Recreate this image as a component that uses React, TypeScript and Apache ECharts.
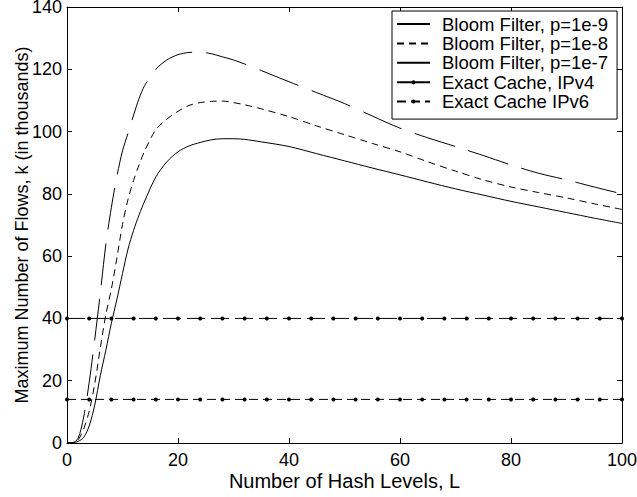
import React, { useEffect, useRef } from "react";
import * as echarts from "echarts";

const FONT = "'Liberation Sans', Arial, Helvetica, sans-serif";

// Number of hash levels L (x values of the Bloom filter curves)
const hashLevels = [0, 1, 2, 3, 4, 5, 6, 7, 8, 9, 10, 11, 12, 13, 14, 16, 18, 20, 22, 24, 26, 28, 30, 32, 35, 40, 45, 50, 55, 60, 65, 70, 75, 80, 85, 90, 95, 100];

// Maximum number of flows (thousands)
const bloomP9 = [0, 0.05, 0.5, 1.8, 5.5, 12.2, 21.6, 29.8, 38.5, 46.2, 54.4, 62.3, 68.3, 73.3, 77.7, 85.4, 90.3, 93.5, 95.4, 96.5, 97.35, 97.7, 97.7, 97.5, 96.7, 95.2, 92.9, 90.6, 88.3, 86.1, 83.8, 81.6, 79.6, 77.6, 75.8, 74, 72.2, 70.5];
const bloomP8 = [0, 0.1, 1, 4.5, 10.2, 19, 30.5, 41.2, 49.5, 59.5, 70.2, 78.3, 84.3, 89.4, 93.8, 100.6, 104, 106.5, 108.4, 109.3, 109.7, 109.8, 109.3, 108.6, 107.3, 104.8, 101.8, 99, 96.2, 93.5, 90.3, 87.3, 84.5, 82.2, 80.4, 78.7, 76.8, 75];
const bloomP7 = [0, 0.1, 1.5, 8.3, 19.5, 33.3, 48.1, 63.8, 75.7, 85.7, 93.8, 99.5, 105.3, 110.7, 114.8, 120, 123, 124.7, 125.4, 125.5, 125, 124, 123, 121.7, 119.6, 116, 112.5, 109, 105, 101.1, 98, 95.2, 92.3, 89.3, 86.6, 84.5, 82.2, 80];

// Exact cache lines (with markers)
const markerLevels = [0, 4, 8, 12, 16, 20, 24, 28, 32, 36, 40, 44, 48, 52, 56, 60, 64, 68, 72, 76, 80, 84, 88, 92, 96, 100];
const ipv4Flows = [40, 40, 40, 40, 40, 40, 40, 40, 40, 40, 40, 40, 40, 40, 40, 40, 40, 40, 40, 40, 40, 40, 40, 40, 40, 40];
const ipv6Flows = [14, 14, 14, 14, 14, 14, 14, 14, 14, 14, 14, 14, 14, 14, 14, 14, 14, 14, 14, 14, 14, 14, 14, 14, 14, 14];

const seriesNames = [
  "Bloom Filter, p=1e-9",
  "Bloom Filter, p=1e-8",
  "Bloom Filter, p=1e-7",
  "Exact Cache, IPv4",
  "Exact Cache IPv6",
];

const xTitle = "Number of Hash Levels, L";
const yTitle = "Maximum Number of Flows, k (in thousands)";

function App() {
  const ref = useRef<HTMLDivElement>(null);

  useEffect(() => {
    if (!ref.current) return;
    const chart = echarts.init(ref.current, null, { renderer: "svg" });

    const axisLine = { show: true, onZero: false, lineStyle: { color: "#000", width: 1 } };
    const axisTick = { show: true, inside: true, length: 5, lineStyle: { color: "#000", width: 1 } };
    const label = { fontSize: 18, color: "#000", fontFamily: FONT };

    const pair = (xs: number[], ys: number[]) => xs.map((x, i) => [x, ys[i]]);
    const noSymbol = { color: "rgba(0,0,0,0)", borderWidth: 0, opacity: 0 };

    chart.setOption({
      animation: false,
      backgroundColor: "#fff",
      grid: { left: 67, top: 7, width: 555, height: 436, containLabel: false, outerBoundsMode: "none" },
      legend: {
        orient: "vertical",
        left: 392,
        top: 11,
        padding: [3.5, 9, 8, 4],
        itemWidth: 33,
        itemHeight: 5,
        itemGap: 0.4,
        borderColor: "#000",
        borderWidth: 1,
        backgroundColor: "#fff",
        textStyle: { fontSize: 18.5, color: "#000", fontFamily: FONT, lineHeight: 18, padding: [0, 0, 0, 7] },
        data: [
          { name: seriesNames[0], itemStyle: noSymbol },
          { name: seriesNames[1], itemStyle: noSymbol },
          { name: seriesNames[2], itemStyle: noSymbol, lineStyle: { type: "solid" } },
          { name: seriesNames[3], lineStyle: { type: "solid" } },
          { name: seriesNames[4] },
        ],
      },
      xAxis: [
        {
          type: "value", min: 0, max: 100, interval: 20, position: "bottom",
          name: xTitle, nameLocation: "middle", nameGap: 28, nameMoveOverlap: false,
          nameTextStyle: { ...label, fontSize: 20 },
          axisLine, axisTick,
          axisLabel: { ...label, margin: 8 },
          splitLine: { show: false },
        },
        {
          type: "value", min: 0, max: 100, interval: 20, position: "top",
          axisLine, axisTick, axisLabel: { show: false }, splitLine: { show: false },
        },
      ],
      yAxis: [
        {
          type: "value", min: 0, max: 140, interval: 20, position: "left",
          name: yTitle, nameLocation: "middle", nameGap: 36, nameMoveOverlap: false,
          nameTextStyle: { ...label },
          axisLine, axisTick,
          axisLabel: { ...label, margin: 5, lineHeight: 14 },
          splitLine: { show: false },
        },
        {
          type: "value", min: 0, max: 140, interval: 20, position: "right",
          axisLine, axisTick, axisLabel: { show: false }, splitLine: { show: false },
        },
      ],
      series: [
        {
          name: seriesNames[0], type: "line", data: pair(hashLevels, bloomP9),
          symbol: "none", smooth: 0.3, clip: true,
          lineStyle: { color: "#000", width: 1, type: "solid" },
          itemStyle: { color: "#000" },
        },
        {
          name: seriesNames[1], type: "line", data: pair(hashLevels, bloomP8),
          symbol: "none", smooth: 0.3, clip: true,
          lineStyle: { color: "#000", width: 1, type: [7, 5] },
          itemStyle: { color: "#000" },
        },
        {
          name: seriesNames[2], type: "line", data: pair(hashLevels, bloomP7),
          symbol: "none", smooth: 0.3, clip: true,
          lineStyle: { color: "#000", width: 1, type: [42, 14] },
          itemStyle: { color: "#000" },
        },
        {
          name: seriesNames[3], type: "line", data: pair(markerLevels, ipv4Flows),
          symbol: "circle", symbolSize: 4, showSymbol: true, showAllSymbol: true,
          lineStyle: { color: "#000", width: 1, type: [18, 6] },
          itemStyle: { color: "#000" },
        },
        {
          name: seriesNames[4], type: "line", data: pair(markerLevels, ipv6Flows),
          symbol: "circle", symbolSize: 4, showSymbol: true, showAllSymbol: true,
          lineStyle: { color: "#000", width: 1, type: [9, 5] },
          itemStyle: { color: "#000" },
        },
      ],
    });

    return () => chart.dispose();
  }, []);

  return (
    <div
      ref={ref}
      style={{ position: "fixed", left: 0, top: 0, width: 637, height: 497, background: "#fff" }}
    />
  );
}

export default App;
